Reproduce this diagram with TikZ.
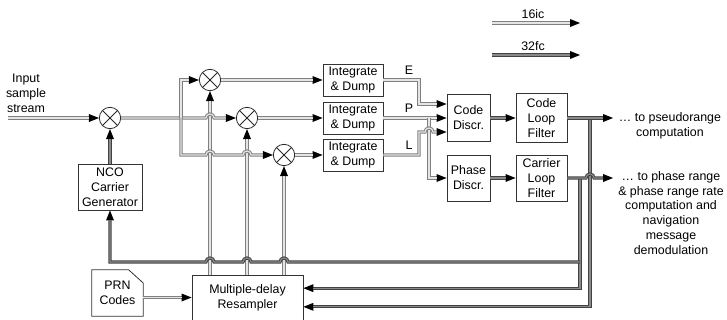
\documentclass[tikz,border=0pt]{standalone}
\usepackage{fontspec}
\setmainfont{Liberation Sans}
\usetikzlibrary{arrows.meta}
\newcommand{\tipgap}{0pt}
\tikzset{
    sigint/.style={draw=black!50, line width=2.4pt,
        postaction={draw=black!10, line width=.9pt, -, shorten >=\tipgap}},
    sigflt/.style={draw=black!74, line width=2.4pt,
        postaction={draw=black!46, line width=.9pt, -, shorten >=\tipgap}},
    sigarrow/.style={-{Triangle[length=7.5pt,width=6pt,black,line width=0pt]},
        /utils/exec={\renewcommand{\tipgap}{7.5pt}}},
    blk/.style={draw=black!80, line width=.6pt, align=center, inner sep=1pt},
    mixer/.style={circle, draw=black!85, line width=.6pt, minimum size=16pt, inner sep=0pt,
        path picture={\draw[black!85, line width=.6pt]
            (path picture bounding box.north west) -- (path picture bounding box.south east)
            (path picture bounding box.north east) -- (path picture bounding box.south west);}}
}

\begin{document}
\begin{tikzpicture}[x=0.75pt, y=-0.75pt, every node/.style={font=\fontsize{9.3}{11.2}\selectfont}]
    \useasboundingbox (0,0) rectangle (727,320);

    % legend
    \node (key16) at (533,14) {16ic};
    \node (key32) at (533,46) {32fc};
    \coordinate (k16a) at (492,23);
    \coordinate (k16b) at (580,23);
    \coordinate (k32a) at (492,55);
    \coordinate (k32b) at (580,55);
    \draw [sigint,sigarrow] (k16a) -- (k16b);
    \draw [sigflt,sigarrow] (k32a) -- (k32b);

    % front end and correlators
    \node[align=center] (input) at (26,93) {Input\\sample\\stream};
    \coordinate (instart) at (8,118);
    \node[mixer] (mixc) at (110,118) {};
    \node[blk, minimum width=48pt, minimum height=34.5pt] (nco) at (110,187) {NCO\\Carrier\\Generator};
    \node[mixer] (mixe) at (210,80) {};
    \node[mixer] (mixp) at (247,118) {};
    \node[mixer] (mixl) at (284,155) {};
    \coordinate (split) at (181,118);
    \node[blk, minimum width=45pt, minimum height=24pt] (ide) at (353,80) {Integrate\\\& Dump};
    \node[blk, minimum width=45pt, minimum height=24pt] (idp) at (353,118) {Integrate\\\& Dump};
    \node[blk, minimum width=45pt, minimum height=24pt] (idl) at (353,155) {Integrate\\\& Dump};
    \node[minimum width=38.25pt, minimum height=34.5pt, align=center] (prn) at (117.5,293) {PRN\\Codes};
    \node[blk, minimum width=83.25pt, minimum height=33.75pt] (res) at (247.5,297.5) {Multiple-delay\\Resampler};

    % loops
    \node[blk, minimum width=32.25pt, minimum height=35.25pt] (coded) at (468.5,118) {Code\\Discr.};
    \node[blk, minimum width=32.25pt, minimum height=34.5pt] (phased) at (468.5,178) {Phase\\Discr.};
    \node[blk, minimum width=38.25pt, minimum height=36.75pt] (codef) at (541.5,118) {Code\\Loop\\Filter};
    \node[blk, minimum width=38.25pt, minimum height=34.5pt] (carrf) at (541.5,178) {Carrier\\Loop\\Filter};
    \node (labe) at (409,70) {E};
    \node (labp) at (409,108) {P};
    \node (labl) at (409,145) {L};
    \coordinate (ptap) at (429,118);
    \coordinate (ctap) at (590,118);
    \coordinate (ftap) at (580,178);
    \coordinate (ncotap) at (580,262);
    \coordinate (pr) at (613,118);
    \coordinate (ph) at (613,178);
    \node[align=center] (prtext) at (670,125.5) {\dots{} to pseudorange\\computation};
    \node[align=center] (phtext) at (671,213) {\dots{} to phase range\\\& phase range rate\\computation and\\navigation\\message\\demodulation};

    \draw[black!80, line width=.6pt] (prn.south west) -- (prn.north west) -- ([xshift=-11pt]prn.north east)
        -- ([yshift=-10pt]prn.north east) -- (prn.south east) -- cycle;

    \draw [sigint,sigarrow] (instart) -- (mixc);
    \draw [sigflt,sigarrow] (nco) -- (mixc);
    \draw [sigint,sigarrow] (mixe |- res.north) -- (mixe);
    \draw [sigint,sigarrow] (mixp |- res.north) -- (mixp);
    \draw [sigint,sigarrow] (mixl |- res.north) -- (mixl);
    \draw [sigint,sigarrow] (mixc) -- (split) -- (206,118) arc(180:0:3pt) -- (mixp);
    \draw [sigint,sigarrow] (split) |- (mixe);
    \draw [sigint,sigarrow] (split) -- (181,155) -- (206,155) arc(180:0:3pt)
        -- (243,155) arc(180:0:3pt) -- (mixl);
    \draw [sigint,sigarrow] (mixe) -- (ide);
    \draw [sigint,sigarrow] (mixp) -- (idp);
    \draw [sigint,sigarrow] (mixl) -- (idl);
    \draw [sigint,sigarrow] (prn.east |- res.west) -- (res.west);

    \draw [sigint,sigarrow] (ide) -- (419,80) -- (419,104) -- ([yshift=10.5pt]coded.west);
    \draw [sigint,sigarrow] (idp) -- (coded);
    \draw [sigint,sigarrow] (ptap) |- (phased);
    \draw [sigint,sigarrow] (idl) -- (419,155) -- (419,132) -- (425,132) arc(180:0:3pt)
        -- ([yshift=-10.5pt]coded.west);
    \draw [sigflt,sigarrow] (coded) -- (codef);
    \draw [sigflt,sigarrow] (phased) -- (carrf);

    \draw [sigflt,sigarrow] (ctap) |- ([yshift=-7pt]res.east);
    \draw [sigflt,sigarrow] (ftap) |- ([yshift=7pt]res.east);
    \draw [sigflt,sigarrow] (ncotap) -- (288,262) arc(0:180:3pt) -- (251,262) arc(0:180:3pt)
        -- (214,262) arc(0:180:3pt) -- (110,262) -- (nco);
    \draw [sigflt,sigarrow] (codef) -- (pr);
    \draw [sigflt,sigarrow] (carrf) -- (586,178) arc(180:0:3pt) -- (ph);
\end{tikzpicture}
\end{document}
